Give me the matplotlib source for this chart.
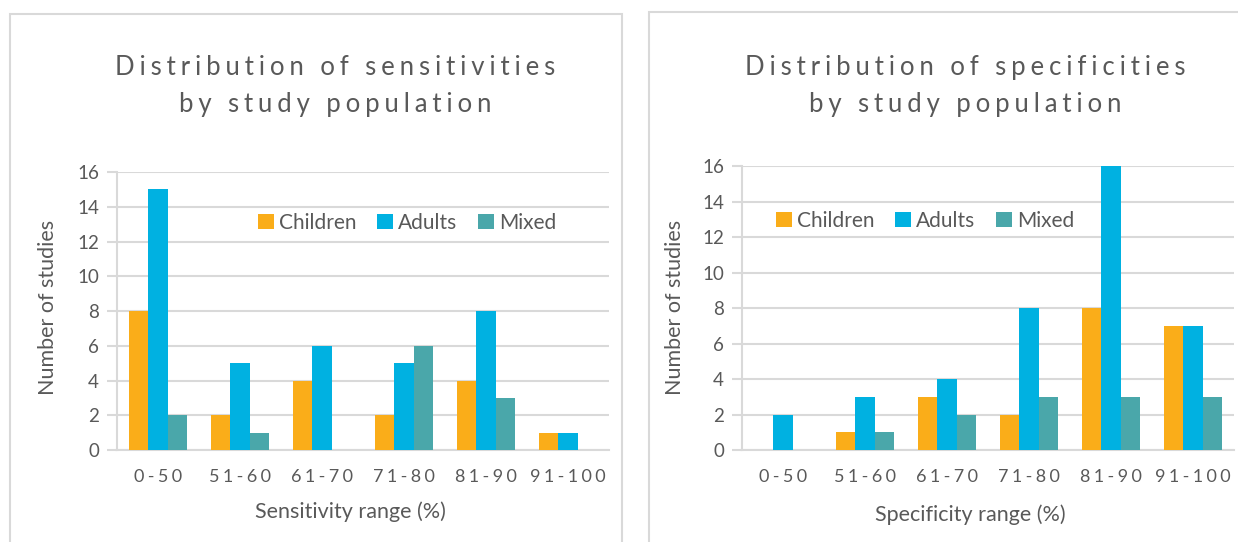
import numpy as np
import matplotlib
matplotlib.use("Agg")
import matplotlib.pyplot as plt
from matplotlib.patches import Rectangle

# Counts of studies per accuracy band, split by study population
ranges = ["0-50", "51-60", "61-70", "71-80", "81-90", "91-100"]
groups = ["Children", "Adults", "Mixed"]

sens_children = [8, 2, 4, 2, 4, 1]
sens_adults = [15, 5, 6, 5, 8, 1]
sens_mixed = [2, 1, 0, 6, 3, 0]

spec_children = [0, 1, 3, 2, 8, 7]
spec_adults = [2, 3, 4, 8, 16, 7]
spec_mixed = [0, 1, 2, 3, 3, 3]

colors = ["#FAAD19", "#00B1E1", "#4AA7AA"]
text_color = "#595959"
grid_color = "#D9D9D9"
fonts = ["Lato", "DejaVu Sans"]


def spaced(s, gap="\u2009\u200a"):
    """Spread out characters to mimic the wide tracking of the labels."""
    return gap.join(s)


def draw_panel(ax, series, title, xlabel, title_x, ylabel_x, xlabel_pos, legend_pos):
    x = np.arange(len(ranges))
    w = 0.235
    for i, (vals, name) in enumerate(zip(series, groups)):
        ax.bar(x + (i - 1) * w, vals, width=w, color=colors[i], label=name, zorder=3)

    ax.set_xlim(-0.5, len(ranges) - 0.5)
    ax.set_ylim(0, 16)
    ax.set_yticks(range(0, 17, 2))
    ax.set_xticks(x)
    ax.set_xticklabels([spaced(r) for r in ranges], family=fonts, fontsize=13,
                       color=text_color)
    for lbl in ax.get_yticklabels():
        lbl.set_family(fonts)
        lbl.set_fontsize(13.5)
        lbl.set_color(text_color)

    ax.grid(axis="y", color=grid_color, linewidth=1.5, zorder=0)
    ax.tick_params(axis="y", length=7, color=grid_color, width=1.5, pad=6)
    ax.tick_params(axis="x", length=0, pad=14)
    for side in ["top", "right"]:
        ax.spines[side].set_visible(False)
    for side in ["left", "bottom"]:
        ax.spines[side].set_color(grid_color)
        ax.spines[side].set_linewidth(1.5)

    fig.text(title_x, 0.8413, title, family=fonts, fontsize=18.5, color=text_color,
             ha="center", va="center", linespacing=1.62)
    fig.text(ylabel_x, 0.432, "Number of studies", family=fonts, fontsize=15.5,
             color=text_color, rotation=90, ha="center", va="center")
    fig.text(xlabel_pos[0], xlabel_pos[1], xlabel, family=fonts, fontsize=15.5,
             color=text_color, ha="center", va="center")

    leg = ax.legend(loc="center", bbox_to_anchor=legend_pos,
                    bbox_transform=fig.transFigure, ncol=3,
                    frameon=False, handlelength=0.75, handleheight=0.75,
                    handletextpad=0.25, columnspacing=1.0,
                    prop={"family": fonts, "size": 15})
    for t in leg.get_texts():
        t.set_color(text_color)


fig = plt.figure(figsize=(12.38, 5.42), dpi=100)

# panel frames
fig.patches.append(Rectangle((0.0081, -0.05), 0.4943, 1.024, transform=fig.transFigure,
                             fill=False, edgecolor=grid_color, linewidth=1.5))
fig.patches.append(Rectangle((0.5242, -0.05), 0.6, 1.028, transform=fig.transFigure,
                             fill=False, edgecolor=grid_color, linewidth=1.5))

ax1 = fig.add_axes([0.0945, 0.1697, 0.3974, 0.5129])
ax2 = fig.add_axes([0.5994, 0.1697, 0.3974, 0.524])

draw_panel(ax1, [sens_children, sens_adults, sens_mixed],
           spaced("Distribution of sensitivities") + "\n" + spaced("by study population"),
           "Sensitivity range (%)", 0.2706, 0.0388, (0.2827, 0.0554), (0.3288, 0.5886))
draw_panel(ax2, [spec_children, spec_adults, spec_mixed],
           spaced("Distribution of specificities") + "\n" + spaced("by study population"),
           "Specificity range (%)", 0.7795, 0.5452, (0.7835, 0.0498), (0.7472, 0.5923))

fig.savefig("out.png", dpi=100)
